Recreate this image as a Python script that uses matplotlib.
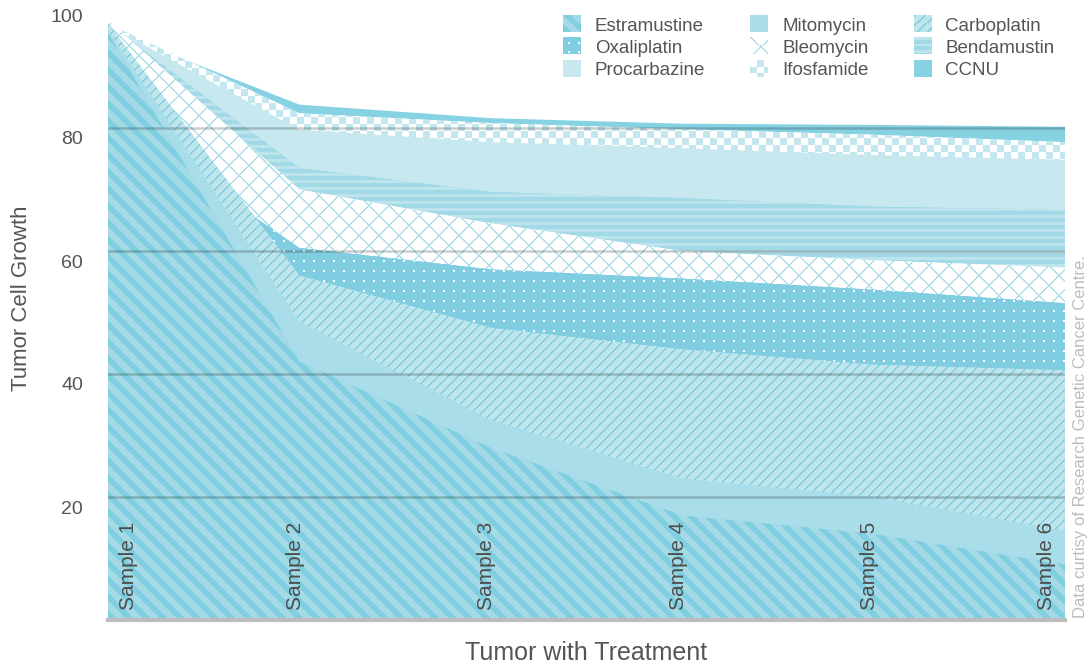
import numpy as np
import matplotlib.pyplot as plt
from matplotlib.patches import Patch
from matplotlib.legend_handler import HandlerBase
from matplotlib.image import BboxImage
from matplotlib.transforms import ScaledTranslation, Bbox, TransformedBbox

plt.rcParams['font.family'] = ['Liberation Sans', 'DejaVu Sans']

# data (overlapping areas, not stacked)
samples = ['Sample 1', 'Sample 2', 'Sample 3', 'Sample 4', 'Sample 5', 'Sample 6']
names = ['Estramustine', 'Mitomycin', 'Carboplatin', 'Oxaliplatin', 'Bleomycin',
         'Bendamustin', 'Procarbazine', 'Ifosfamide', 'CCNU']
estramustine = [95.5, 42, 28, 17, 14, 9]
mitomycin = [96, 48.5, 32.5, 23, 20, 14.5]
carboplatin = [97, 56, 47.5, 44, 41.5, 40.6]
oxaliplatin = [82, 60.5, 57, 55.5, 53.7, 51.5]
bleomycin = [97.5, 70, 64.5, 60, 58.5, 57.3]
bendamustin = [97, 73.5, 69.6, 68.6, 67.2, 66.7]
procarbazine = [96.7, 79.7, 77.7, 76.7, 75.6, 74.8]
ifosfamide = [97, 82.4, 80.8, 79.8, 78.9, 77.7]
ccnu = [96, 83.8, 81.6, 80.7, 80.5, 80.2]
values = [estramustine, mitomycin, carboplatin, oxaliplatin, bleomycin,
          bendamustin, procarbazine, ifosfamide, ccnu]
yticks = [20, 40, 60, 80, 100]

# pattern kind, base colour, pattern colour
styles = {
    'Estramustine': ('stripes', '#a4dae6', '#80cfe1'),
    'Mitomycin': ('solid', '#a9dde9', None),
    'Carboplatin': ('lines', '#bee5ec', '#80cfe1'),
    'Oxaliplatin': ('dots', '#80cde1', '#ffffff'),
    'Bleomycin': ('diamond', '#ffffff', '#b0dfe9'),
    'Bendamustin': ('hstripes', '#a2d9e6', '#bde4ec'),
    'Procarbazine': ('solid', '#c7e8ef', None),
    'Ifosfamide': ('checker', '#ffffff', '#c4e6ee'),
    'CCNU': ('solid', '#86d2e3', None),
}


def to_rgb(c):
    return np.array([int(c[i:i + 2], 16) / 255 for i in (1, 3, 5)])


def pattern(kind, fc, pc, h, w):
    yy, xx = np.mgrid[0:h, 0:w]
    if kind == 'stripes':
        mask = (xx - yy) % 17 < 8
    elif kind == 'lines':
        mask = (xx + yy) % 10 < 2
    elif kind == 'diamond':
        mask = ((xx + yy) % 20 < 2) | ((xx - yy) % 20 < 2)
    elif kind == 'hstripes':
        mask = yy % 7 < 3
    elif kind == 'dots':
        mask = ((xx + 5) % 10 < 2) & ((yy + 5) % 10 < 2)
    elif kind == 'checker':
        mask = ((xx // 7 + yy // 7) % 2) == 1
    else:
        return np.broadcast_to(to_rgb(fc), (h, w, 3)).copy()
    return np.where(mask[..., None], to_rgb(pc), to_rgb(fc))


fig = plt.figure(figsize=(10.88, 6.67), dpi=100)
ax = fig.add_axes([108 / 1088, 47 / 667, 957 / 1088, 615 / 667])
W, H = 957, 615

x = np.arange(len(samples))
for i in reversed(range(len(names))):
    kind, fc, pc = styles[names[i]]
    z = 1 + (len(names) - i) * 0.1
    coll = ax.fill_between(x, 0, values[i], facecolor=fc, linewidth=0, zorder=z)
    if kind != 'solid':
        im = ax.imshow(pattern(kind, fc, pc, H, W), extent=[0, len(samples) - 1, 0, 100],
                       origin='upper', interpolation='nearest', aspect='auto',
                       zorder=z + 0.05)
        im.set_clip_path(coll.get_paths()[0], transform=ax.transData)

ax.set_xlim(0, len(samples) - 1)
ax.set_ylim(0, 100)

# grid on top of the areas
for v in yticks[:-1]:
    ax.axhline(v, color='black', alpha=0.2, lw=1.8, zorder=3)

ax.set_xticks([])
ax.set_yticks(yticks)
ax.set_yticklabels([str(v) for v in yticks])
ax.tick_params(axis='y', length=0, pad=18, labelsize=14, labelcolor='#555555')
for lab in ax.get_yticklabels():
    lab.set_transform(lab.get_transform() + ScaledTranslation(0, -0.10, fig.dpi_scale_trans))
for s in ['top', 'right', 'left']:
    ax.spines[s].set_visible(False)
ax.spines['bottom'].set_color('#bdbdbd')
ax.spines['bottom'].set_linewidth(3)
ax.spines['bottom'].set_zorder(4)

for i, s in enumerate(samples):
    dx = 20 if i == 0 else (-19 if i == len(samples) - 1 else -4)
    ax.annotate(s, xy=(i, 0), xytext=(dx, 10), textcoords='offset pixels',
                rotation=90, ha='center', va='bottom', fontsize=15,
                color='#4d4d4d', zorder=5)

ax.annotate('Tumor with Treatment', xy=(0.5, 0), xycoords='axes fraction',
            xytext=(0, -33), textcoords='offset pixels', ha='center', va='center',
            fontsize=18, color='#555555')
fig.text(22 / 1088, 1 - 298 / 667, 'Tumor Cell Growth', rotation=90,
         ha='center', va='center', fontsize=16, color='#555555')
fig.text(1080 / 1088, 49 / 667, 'Data curtisy of Research Genetic Cancer Centre.',
         rotation=90, ha='center', va='bottom', fontsize=12, color='#bdbdbd')


class SwatchHandler(HandlerBase):
    def __init__(self, style):
        super().__init__()
        self.style = style

    def create_artists(self, legend, orig_handle, xdescent, ydescent,
                       width, height, fontsize, trans):
        kind, fc, pc = self.style
        bb = TransformedBbox(Bbox.from_bounds(-xdescent, -ydescent, width, height), trans)
        im = BboxImage(bb, interpolation='nearest')
        im.set_data(pattern(kind, fc, pc, 18, 18))
        return [im]


# legend fills column by column: reorder so rows read in series order
order = [r * 3 + c for c in range(3) for r in range(3)]
handles = [Patch(label=names[k]) for k in order]
hmap = {h: SwatchHandler(styles[names[k]]) for h, k in zip(handles, order)}
fig.legend(handles=handles, handler_map=hmap, loc='upper left',
           bbox_to_anchor=(563 / 1088, 1 - 16 / 667), ncol=3, frameon=False,
           fontsize=13.5, handlelength=0.95, handleheight=0.95, handletextpad=0.75,
           columnspacing=2.4, labelspacing=0.2, borderpad=0, borderaxespad=0,
           labelcolor='#555555')

fig.savefig('out.png', dpi=100)
